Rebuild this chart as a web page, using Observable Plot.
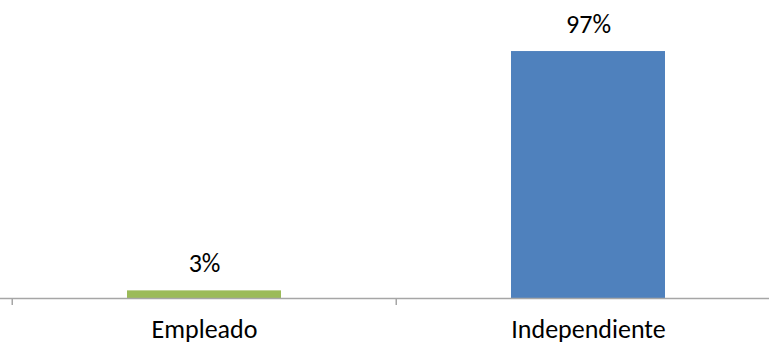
<!DOCTYPE html>
<html>
<head>
<meta charset="utf-8">
<script src="https://cdn.jsdelivr.net/npm/d3@7"></script>
<script src="https://cdn.jsdelivr.net/npm/@observablehq/plot@0.6"></script>
<style>
  html, body { margin: 0; padding: 0; background: #fff; }
  #chart svg { display: block; }
</style>
</head>
<body>
<div id="chart"></div>
<script>
const categories = ["Empleado", "Independiente"];
const values = [3, 97];
const valueLabels = ["3%", "97%"];
const colors = ["#9BBB59", "#4F81BD"];

const data = categories.map((c, i) => ({category: c, value: values[i], label: valueLabels[i], color: colors[i]}));

const W = 769, H = 345;
const xRange = [11, 780];
const padIn = 0.6, padOut = 0.3;
const step = (xRange[1] - xRange[0]) / (categories.length - padIn + 2 * padOut);
const font = "Calibri, Carlito, 'Open Sans', sans-serif";

const chart = Plot.plot({
  width: W,
  height: H,
  margin: 0,
  style: {fontFamily: font, background: "#fff", overflow: "visible"},
  x: {type: "band", domain: categories, range: xRange, paddingInner: padIn, paddingOuter: padOut, axis: null},
  y: {domain: [0, 100], range: [298, 43.4], axis: null},
  marks: [
    Plot.barY(data, {x: "category", y: "value", fill: "color"}),
    Plot.ruleY([0], {stroke: "#a6a6a6", strokeWidth: 1.5}),
    Plot.ruleX(data, {x: "category", y1: 0, y2: 0, insetBottom: -7, dx: -step / 2, stroke: "#a6a6a6", strokeWidth: 1.5}),
    Plot.text(data, {x: "category", y: "value", text: "label", dy: -27, fontSize: 26, fill: "#000", textAnchor: "middle"}),
    Plot.text(data, {x: "category", y: 0, text: "category", dy: 31, fontSize: 26, fill: "#000", textAnchor: "middle"})
  ]
});
document.getElementById("chart").appendChild(chart);
</script>
</body>
</html>
